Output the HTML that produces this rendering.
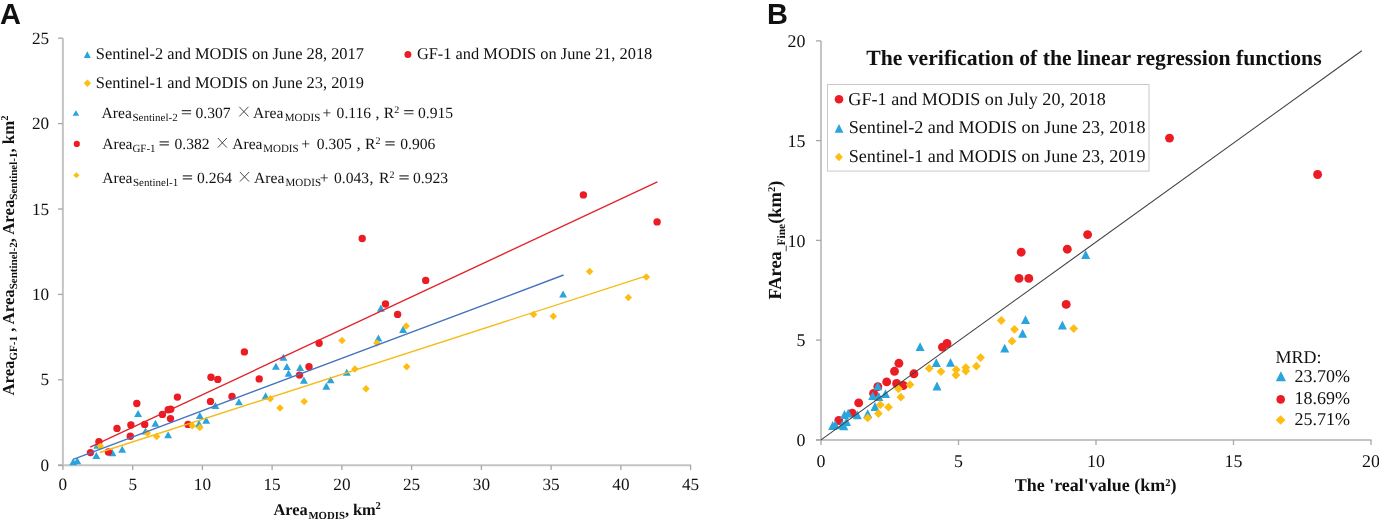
<!DOCTYPE html>
<html><head><meta charset="utf-8"><style>
html,body{margin:0;padding:0;background:#fff;width:1379px;height:521px;overflow:hidden}
svg{display:block;will-change:transform}
text{font-family:"Liberation Serif",serif;fill:#111;text-rendering:geometricPrecision}
</style></head><body>
<svg width="1379" height="521" viewBox="0 0 1379 521">
<rect width="1379" height="521" fill="#fff"/>
<g id="chartA">
<line x1="62.9" y1="38.2" x2="62.9" y2="466.2" stroke="#c4c4c4" stroke-width="2"/>
<line x1="58" y1="465.2" x2="691.15" y2="465.2" stroke="#c4c4c4" stroke-width="2"/>
<line x1="58" y1="465.2" x2="62.9" y2="465.2" stroke="#a6a6a6" stroke-width="1.3"/>
<line x1="58" y1="379.8" x2="62.9" y2="379.8" stroke="#a6a6a6" stroke-width="1.3"/>
<line x1="58" y1="294.4" x2="62.9" y2="294.4" stroke="#a6a6a6" stroke-width="1.3"/>
<line x1="58" y1="209.0" x2="62.9" y2="209.0" stroke="#a6a6a6" stroke-width="1.3"/>
<line x1="58" y1="123.6" x2="62.9" y2="123.6" stroke="#a6a6a6" stroke-width="1.3"/>
<line x1="58" y1="38.2" x2="62.9" y2="38.2" stroke="#a6a6a6" stroke-width="1.3"/>
<line x1="62.9" y1="465.2" x2="62.9" y2="470" stroke="#a6a6a6" stroke-width="1.3"/>
<line x1="132.7" y1="465.2" x2="132.7" y2="470" stroke="#a6a6a6" stroke-width="1.3"/>
<line x1="202.4" y1="465.2" x2="202.4" y2="470" stroke="#a6a6a6" stroke-width="1.3"/>
<line x1="272.1" y1="465.2" x2="272.1" y2="470" stroke="#a6a6a6" stroke-width="1.3"/>
<line x1="341.9" y1="465.2" x2="341.9" y2="470" stroke="#a6a6a6" stroke-width="1.3"/>
<line x1="411.6" y1="465.2" x2="411.6" y2="470" stroke="#a6a6a6" stroke-width="1.3"/>
<line x1="481.4" y1="465.2" x2="481.4" y2="470" stroke="#a6a6a6" stroke-width="1.3"/>
<line x1="551.1" y1="465.2" x2="551.1" y2="470" stroke="#a6a6a6" stroke-width="1.3"/>
<line x1="620.9" y1="465.2" x2="620.9" y2="470" stroke="#a6a6a6" stroke-width="1.3"/>
<line x1="690.6" y1="465.2" x2="690.6" y2="470" stroke="#a6a6a6" stroke-width="1.3"/>
<text x="49.2" y="470.7" font-size="17.2" font-weight="normal" text-anchor="end" >0</text>
<text x="49.2" y="385.3" font-size="17.2" font-weight="normal" text-anchor="end" >5</text>
<text x="49.2" y="299.9" font-size="17.2" font-weight="normal" text-anchor="end" >10</text>
<text x="49.2" y="214.5" font-size="17.2" font-weight="normal" text-anchor="end" >15</text>
<text x="49.2" y="129.1" font-size="17.2" font-weight="normal" text-anchor="end" >20</text>
<text x="49.2" y="43.7" font-size="17.2" font-weight="normal" text-anchor="end" >25</text>
<text x="62.9" y="490.0" font-size="17.2" font-weight="normal" text-anchor="middle" >0</text>
<text x="132.7" y="490.0" font-size="17.2" font-weight="normal" text-anchor="middle" >5</text>
<text x="202.4" y="490.0" font-size="17.2" font-weight="normal" text-anchor="middle" >10</text>
<text x="272.1" y="490.0" font-size="17.2" font-weight="normal" text-anchor="middle" >15</text>
<text x="341.9" y="490.0" font-size="17.2" font-weight="normal" text-anchor="middle" >20</text>
<text x="411.6" y="490.0" font-size="17.2" font-weight="normal" text-anchor="middle" >25</text>
<text x="481.4" y="490.0" font-size="17.2" font-weight="normal" text-anchor="middle" >30</text>
<text x="551.1" y="490.0" font-size="17.2" font-weight="normal" text-anchor="middle" >35</text>
<text x="620.9" y="490.0" font-size="17.2" font-weight="normal" text-anchor="middle" >40</text>
<text x="690.6" y="490.0" font-size="17.2" font-weight="normal" text-anchor="middle" >45</text>
</g>
<g id="ptsA">
<path d="M138.10 409.95L142.05 417.05L134.15 417.05Z" fill="#29a4dc"/>
<path d="M155.40 419.65L159.35 426.75L151.45 426.75Z" fill="#29a4dc"/>
<path d="M145.50 427.45L149.45 434.55L141.55 434.55Z" fill="#29a4dc"/>
<path d="M122.20 445.65L126.15 452.75L118.25 452.75Z" fill="#29a4dc"/>
<path d="M96.30 451.95L100.25 459.05L92.35 459.05Z" fill="#29a4dc"/>
<path d="M112.40 449.05L116.35 456.15L108.45 456.15Z" fill="#29a4dc"/>
<path d="M73.20 458.25L77.15 465.35L69.25 465.35Z" fill="#29a4dc"/>
<path d="M77.30 457.15L81.25 464.25L73.35 464.25Z" fill="#29a4dc"/>
<path d="M168.10 431.25L172.05 438.35L164.15 438.35Z" fill="#29a4dc"/>
<path d="M199.80 411.95L203.75 419.05L195.85 419.05Z" fill="#29a4dc"/>
<path d="M199.00 420.05L202.95 427.15L195.05 427.15Z" fill="#29a4dc"/>
<path d="M206.20 416.55L210.15 423.65L202.25 423.65Z" fill="#29a4dc"/>
<path d="M215.40 401.95L219.35 409.05L211.45 409.05Z" fill="#29a4dc"/>
<path d="M238.90 398.15L242.85 405.25L234.95 405.25Z" fill="#29a4dc"/>
<path d="M265.60 392.35L269.55 399.45L261.65 399.45Z" fill="#29a4dc"/>
<path d="M283.40 353.75L287.35 360.85L279.45 360.85Z" fill="#29a4dc"/>
<path d="M275.90 362.75L279.85 369.85L271.95 369.85Z" fill="#29a4dc"/>
<path d="M286.90 362.95L290.85 370.05L282.95 370.05Z" fill="#29a4dc"/>
<path d="M288.60 369.65L292.55 376.75L284.65 376.75Z" fill="#29a4dc"/>
<path d="M300.10 363.85L304.05 370.95L296.15 370.95Z" fill="#29a4dc"/>
<path d="M303.90 376.55L307.85 383.65L299.95 383.65Z" fill="#29a4dc"/>
<path d="M330.60 376.15L334.55 383.25L326.65 383.25Z" fill="#29a4dc"/>
<path d="M326.30 382.55L330.25 389.65L322.35 389.65Z" fill="#29a4dc"/>
<path d="M346.80 368.75L350.75 375.85L342.85 375.85Z" fill="#29a4dc"/>
<path d="M378.40 334.45L382.35 341.55L374.45 341.55Z" fill="#29a4dc"/>
<path d="M380.90 304.55L384.85 311.65L376.95 311.65Z" fill="#29a4dc"/>
<path d="M403.10 325.85L407.05 332.95L399.15 332.95Z" fill="#29a4dc"/>
<path d="M563.10 290.45L567.05 297.55L559.15 297.55Z" fill="#29a4dc"/>
<path d="M97.30 441.75L101.25 448.85L93.35 448.85Z" fill="#29a4dc"/>
<circle cx="136.8" cy="403.5" r="3.70" fill="#ec1c24"/>
<circle cx="177.4" cy="397.1" r="3.70" fill="#ec1c24"/>
<circle cx="117.0" cy="428.4" r="3.70" fill="#ec1c24"/>
<circle cx="130.9" cy="425.0" r="3.70" fill="#ec1c24"/>
<circle cx="144.7" cy="424.4" r="3.70" fill="#ec1c24"/>
<circle cx="162.4" cy="414.4" r="3.70" fill="#ec1c24"/>
<circle cx="168.2" cy="409.8" r="3.70" fill="#ec1c24"/>
<circle cx="170.7" cy="409.2" r="3.70" fill="#ec1c24"/>
<circle cx="170.5" cy="418.6" r="3.70" fill="#ec1c24"/>
<circle cx="130.3" cy="436.3" r="3.70" fill="#ec1c24"/>
<circle cx="98.9" cy="441.7" r="3.70" fill="#ec1c24"/>
<circle cx="90.5" cy="452.6" r="3.70" fill="#ec1c24"/>
<circle cx="108.4" cy="452.0" r="3.70" fill="#ec1c24"/>
<circle cx="188.0" cy="424.4" r="3.70" fill="#ec1c24"/>
<circle cx="210.5" cy="401.4" r="3.70" fill="#ec1c24"/>
<circle cx="232.0" cy="396.5" r="3.70" fill="#ec1c24"/>
<circle cx="244.4" cy="351.9" r="3.70" fill="#ec1c24"/>
<circle cx="211.0" cy="377.3" r="3.70" fill="#ec1c24"/>
<circle cx="217.8" cy="379.4" r="3.70" fill="#ec1c24"/>
<circle cx="259.2" cy="378.9" r="3.70" fill="#ec1c24"/>
<circle cx="319.1" cy="343.3" r="3.70" fill="#ec1c24"/>
<circle cx="309.0" cy="366.7" r="3.70" fill="#ec1c24"/>
<circle cx="299.5" cy="375.1" r="3.70" fill="#ec1c24"/>
<circle cx="385.5" cy="304.0" r="3.70" fill="#ec1c24"/>
<circle cx="397.6" cy="314.4" r="3.70" fill="#ec1c24"/>
<circle cx="362.2" cy="238.5" r="3.70" fill="#ec1c24"/>
<circle cx="425.7" cy="280.4" r="3.70" fill="#ec1c24"/>
<circle cx="583.4" cy="194.9" r="3.70" fill="#ec1c24"/>
<circle cx="657.1" cy="221.9" r="3.70" fill="#ec1c24"/>
<path d="M100.30 442.25L104.05 446.00L100.30 449.75L96.55 446.00Z" fill="#fdbd12"/>
<path d="M147.30 429.25L151.05 433.00L147.30 436.75L143.55 433.00Z" fill="#fdbd12"/>
<path d="M156.70 432.85L160.45 436.60L156.70 440.35L152.95 436.60Z" fill="#fdbd12"/>
<path d="M192.30 422.05L196.05 425.80L192.30 429.55L188.55 425.80Z" fill="#fdbd12"/>
<path d="M199.80 423.85L203.55 427.60L199.80 431.35L196.05 427.60Z" fill="#fdbd12"/>
<path d="M270.30 395.05L274.05 398.80L270.30 402.55L266.55 398.80Z" fill="#fdbd12"/>
<path d="M280.00 404.25L283.75 408.00L280.00 411.75L276.25 408.00Z" fill="#fdbd12"/>
<path d="M304.20 397.75L307.95 401.50L304.20 405.25L300.45 401.50Z" fill="#fdbd12"/>
<path d="M366.00 385.05L369.75 388.80L366.00 392.55L362.25 388.80Z" fill="#fdbd12"/>
<path d="M342.00 336.85L345.75 340.60L342.00 344.35L338.25 340.60Z" fill="#fdbd12"/>
<path d="M376.90 339.15L380.65 342.90L376.90 346.65L373.15 342.90Z" fill="#fdbd12"/>
<path d="M406.20 322.15L409.95 325.90L406.20 329.65L402.45 325.90Z" fill="#fdbd12"/>
<path d="M354.90 365.35L358.65 369.10L354.90 372.85L351.15 369.10Z" fill="#fdbd12"/>
<path d="M406.70 363.05L410.45 366.80L406.70 370.55L402.95 366.80Z" fill="#fdbd12"/>
<path d="M589.60 267.85L593.35 271.60L589.60 275.35L585.85 271.60Z" fill="#fdbd12"/>
<path d="M646.40 273.15L650.15 276.90L646.40 280.65L642.65 276.90Z" fill="#fdbd12"/>
<path d="M628.30 293.85L632.05 297.60L628.30 301.35L624.55 297.60Z" fill="#fdbd12"/>
<path d="M533.60 310.65L537.35 314.40L533.60 318.15L529.85 314.40Z" fill="#fdbd12"/>
<path d="M553.30 312.55L557.05 316.30L553.30 320.05L549.55 316.30Z" fill="#fdbd12"/>
<line x1="73.2" y1="459.3" x2="563.6" y2="275.0" stroke="#4774c0" stroke-width="1.4"/>
<line x1="90.2" y1="447.2" x2="657.4" y2="181.9" stroke="#e3242b" stroke-width="1.4"/>
<line x1="99.8" y1="452.5" x2="646.4" y2="275.9" stroke="#f5bb1a" stroke-width="1.4"/>
</g>
<g id="legA">
<path d="M87.30 51.30L90.80 57.90L83.80 57.90Z" fill="#29a4dc"/>
<text x="95.8" y="59.4" font-size="16.4" font-weight="normal" text-anchor="start" >Sentinel-2 and MODIS on June 28, 2017</text>
<circle cx="407.9" cy="54.6" r="3.50" fill="#ec1c24"/>
<text x="416.9" y="59.4" font-size="16.4" font-weight="normal" text-anchor="start" >GF-1 and MODIS on June 21, 2018</text>
<path d="M87.40 79.50L91.00 83.30L87.40 87.10L83.80 83.30Z" fill="#fdbd12"/>
<text x="95.8" y="88.3" font-size="16.4" font-weight="normal" text-anchor="start" >Sentinel-1 and MODIS on June 23, 2019</text>
<path d="M75.90 110.20L79.20 115.80L72.60 115.80Z" fill="#29a4dc"/>
<circle cx="76.8" cy="143.9" r="3.10" fill="#ec1c24"/>
<path d="M76.40 172.20L79.50 175.20L76.40 178.20L73.30 175.20Z" fill="#fdbd12"/>
<text x="101.6" y="117.8" font-size="15.6" font-weight="normal" text-anchor="start" >Area</text>
<text x="132.5" y="121.2" font-size="11" font-weight="normal" text-anchor="start" >Sentinel-2</text>
<path d="M181.8 110.6H191.1M181.8 113.7H191.1" stroke="#3a3a3a" stroke-width="1.15" fill="none"/>
<text x="195.5" y="117.8" font-size="15.6" font-weight="normal" text-anchor="start" >0.307</text>
<path d="M239.3 106.8L248.5 116.4M248.5 106.8L239.3 116.4" stroke="#333" stroke-width="0.9" fill="none"/>
<text x="253.0" y="117.8" font-size="15.6" font-weight="normal" text-anchor="start" >Area</text>
<text x="284.8" y="121.2" font-size="11" font-weight="normal" text-anchor="start" >MODIS</text>
<text x="322.5" y="117.8" font-size="15.6" font-weight="normal" text-anchor="start" >+</text>
<text x="336.6" y="117.8" font-size="15.6" font-weight="normal" text-anchor="start" >0.116</text>
<text x="375.6" y="117.8" font-size="15.6" font-weight="normal" text-anchor="start" >,</text>
<text x="383.8" y="117.8" font-size="15.6" font-weight="normal" text-anchor="start" >R</text>
<text x="394.2" y="112.8" font-size="10" font-weight="normal" text-anchor="start" >2</text>
<path d="M404.2 110.6H413.5M404.2 113.7H413.5" stroke="#3a3a3a" stroke-width="1.15" fill="none"/>
<text x="418.0" y="117.8" font-size="15.6" font-weight="normal" text-anchor="start" >0.915</text>
<text x="102.2" y="149.0" font-size="15.6" font-weight="normal" text-anchor="start" >Area</text>
<text x="132.4" y="152.4" font-size="11" font-weight="normal" text-anchor="start" >GF-1</text>
<path d="M159.6 141.8H168.9M159.6 144.9H168.9" stroke="#3a3a3a" stroke-width="1.15" fill="none"/>
<text x="174.5" y="149.0" font-size="15.6" font-weight="normal" text-anchor="start" >0.382</text>
<path d="M217.8 138.0L226.9 147.6M226.9 138.0L217.8 147.6" stroke="#333" stroke-width="0.9" fill="none"/>
<text x="232.2" y="149.0" font-size="15.6" font-weight="normal" text-anchor="start" >Area</text>
<text x="263.2" y="152.4" font-size="11" font-weight="normal" text-anchor="start" >MODIS</text>
<text x="301.3" y="149.0" font-size="15.6" font-weight="normal" text-anchor="start" >+</text>
<text x="316.7" y="149.0" font-size="15.6" font-weight="normal" text-anchor="start" >0.305</text>
<text x="356.8" y="149.0" font-size="15.6" font-weight="normal" text-anchor="start" >,</text>
<text x="365.0" y="149.0" font-size="15.6" font-weight="normal" text-anchor="start" >R</text>
<text x="375.6" y="144.0" font-size="10" font-weight="normal" text-anchor="start" >2</text>
<path d="M385.4 141.8H394.7M385.4 144.9H394.7" stroke="#3a3a3a" stroke-width="1.15" fill="none"/>
<text x="400.2" y="149.0" font-size="15.6" font-weight="normal" text-anchor="start" >0.906</text>
<text x="102.2" y="183.0" font-size="15.6" font-weight="normal" text-anchor="start" >Area</text>
<text x="133.0" y="186.4" font-size="11" font-weight="normal" text-anchor="start" >Sentinel-1</text>
<path d="M182.8 175.8H192.1M182.8 178.9H192.1" stroke="#3a3a3a" stroke-width="1.15" fill="none"/>
<text x="197.0" y="183.0" font-size="15.6" font-weight="normal" text-anchor="start" >0.264</text>
<path d="M239.9 172.0L249.1 181.6M249.1 172.0L239.9 181.6" stroke="#333" stroke-width="0.9" fill="none"/>
<text x="254.0" y="183.0" font-size="15.6" font-weight="normal" text-anchor="start" >Area</text>
<text x="285.6" y="186.4" font-size="11" font-weight="normal" text-anchor="start" >MODIS</text>
<text x="319.8" y="183.0" font-size="15.6" font-weight="normal" text-anchor="start" >+</text>
<text x="334.0" y="183.0" font-size="15.6" font-weight="normal" text-anchor="start" >0.043</text>
<text x="369.4" y="183.0" font-size="15.6" font-weight="normal" text-anchor="start" >,</text>
<text x="379.0" y="183.0" font-size="15.6" font-weight="normal" text-anchor="start" >R</text>
<text x="389.6" y="178.0" font-size="10" font-weight="normal" text-anchor="start" >2</text>
<path d="M399.4 175.8H408.7M399.4 178.9H408.7" stroke="#3a3a3a" stroke-width="1.15" fill="none"/>
<text x="413.0" y="183.0" font-size="15.6" font-weight="normal" text-anchor="start" >0.923</text>
</g>
<g id="titA" font-weight="bold">
<text x="273.5" y="515" font-size="16.4" font-weight="bold" text-anchor="start" >Area</text>
<text x="308.4" y="519.2" font-size="10.8" font-weight="bold" text-anchor="start" >MODIS</text>
<text x="345.0" y="515" font-size="16.4" font-weight="bold" text-anchor="start" >,</text>
<text x="353.0" y="515" font-size="16.4" font-weight="bold" text-anchor="start" >km</text>
<text x="375.6" y="509.4" font-size="10.5" font-weight="bold" text-anchor="start" >2</text>
<g transform="translate(13.7,395.6) rotate(-90)">
<text x="0" y="0" font-size="16.8" font-weight="bold">Area<tspan font-size="11" dy="3.6">GF-1</tspan><tspan dy="-3.6"> , Area</tspan><tspan font-size="11" dy="3.6">Sentinel-2</tspan><tspan dy="-3.6">, Area</tspan><tspan font-size="11" dy="3.6">Sentinel-1</tspan><tspan dy="-3.6">, km</tspan><tspan font-size="10.5" dy="-5.6">2</tspan></text>
</g>
</g>
<text x="0" y="24" style="font-family:Liberation Sans" font-size="29" font-weight="bold">A</text>
<text x="767" y="24" style="font-family:Liberation Sans" font-size="29" font-weight="bold">B</text>
<g id="chartB">
<line x1="821.0" y1="40.9" x2="821.0" y2="440.9" stroke="#c4c4c4" stroke-width="2"/>
<line x1="816" y1="439.9" x2="1371.5" y2="439.9" stroke="#c4c4c4" stroke-width="2"/>
<line x1="816" y1="439.9" x2="821.0" y2="439.9" stroke="#a6a6a6" stroke-width="1.3"/>
<text x="805.5" y="446.0" font-size="17.9" font-weight="normal" text-anchor="end" >0</text>
<line x1="816" y1="340.1" x2="821.0" y2="340.1" stroke="#a6a6a6" stroke-width="1.3"/>
<text x="805.5" y="346.2" font-size="17.9" font-weight="normal" text-anchor="end" >5</text>
<line x1="816" y1="240.4" x2="821.0" y2="240.4" stroke="#a6a6a6" stroke-width="1.3"/>
<text x="805.5" y="246.5" font-size="17.9" font-weight="normal" text-anchor="end" >10</text>
<line x1="816" y1="140.6" x2="821.0" y2="140.6" stroke="#a6a6a6" stroke-width="1.3"/>
<text x="805.5" y="146.7" font-size="17.9" font-weight="normal" text-anchor="end" >15</text>
<line x1="816" y1="40.9" x2="821.0" y2="40.9" stroke="#a6a6a6" stroke-width="1.3"/>
<text x="805.5" y="47.0" font-size="17.9" font-weight="normal" text-anchor="end" >20</text>
<line x1="821.0" y1="439.9" x2="821.0" y2="445" stroke="#a6a6a6" stroke-width="1.3"/>
<text x="821.0" y="466.9" font-size="17.9" font-weight="normal" text-anchor="middle" >0</text>
<line x1="958.5" y1="439.9" x2="958.5" y2="445" stroke="#a6a6a6" stroke-width="1.3"/>
<text x="958.5" y="466.9" font-size="17.9" font-weight="normal" text-anchor="middle" >5</text>
<line x1="1096.0" y1="439.9" x2="1096.0" y2="445" stroke="#a6a6a6" stroke-width="1.3"/>
<text x="1096.0" y="466.9" font-size="17.9" font-weight="normal" text-anchor="middle" >10</text>
<line x1="1233.5" y1="439.9" x2="1233.5" y2="445" stroke="#a6a6a6" stroke-width="1.3"/>
<text x="1233.5" y="466.9" font-size="17.9" font-weight="normal" text-anchor="middle" >15</text>
<line x1="1371.0" y1="439.9" x2="1371.0" y2="445" stroke="#a6a6a6" stroke-width="1.3"/>
<text x="1371.0" y="466.9" font-size="17.9" font-weight="normal" text-anchor="middle" >20</text>
</g>
<g id="ptsB">
<circle cx="858.7" cy="402.9" r="4.45" fill="#ec1c24"/>
<circle cx="852.2" cy="413.1" r="4.45" fill="#ec1c24"/>
<circle cx="838.8" cy="420.5" r="4.45" fill="#ec1c24"/>
<circle cx="873.6" cy="393.4" r="4.45" fill="#ec1c24"/>
<circle cx="877.8" cy="386.7" r="4.45" fill="#ec1c24"/>
<circle cx="886.7" cy="381.9" r="4.45" fill="#ec1c24"/>
<circle cx="896.6" cy="383.5" r="4.45" fill="#ec1c24"/>
<circle cx="903.2" cy="385.5" r="4.45" fill="#ec1c24"/>
<circle cx="894.5" cy="371.3" r="4.45" fill="#ec1c24"/>
<circle cx="898.9" cy="363.3" r="4.45" fill="#ec1c24"/>
<circle cx="913.9" cy="373.8" r="4.45" fill="#ec1c24"/>
<circle cx="947.0" cy="343.5" r="4.45" fill="#ec1c24"/>
<circle cx="942.4" cy="347.1" r="4.45" fill="#ec1c24"/>
<circle cx="1066.2" cy="304.4" r="4.45" fill="#ec1c24"/>
<circle cx="1019.0" cy="278.4" r="4.45" fill="#ec1c24"/>
<circle cx="1028.8" cy="278.4" r="4.45" fill="#ec1c24"/>
<circle cx="1021.2" cy="252.2" r="4.45" fill="#ec1c24"/>
<circle cx="1067.3" cy="249.2" r="4.45" fill="#ec1c24"/>
<circle cx="1087.6" cy="234.6" r="4.45" fill="#ec1c24"/>
<circle cx="1169.5" cy="138.1" r="4.45" fill="#ec1c24"/>
<circle cx="1317.6" cy="174.5" r="4.45" fill="#ec1c24"/>
<path d="M844.50 410.10L849.00 418.90L840.00 418.90Z" fill="#29a4dc"/>
<path d="M848.20 408.70L852.70 417.50L843.70 417.50Z" fill="#29a4dc"/>
<path d="M857.30 410.40L861.80 419.20L852.80 419.20Z" fill="#29a4dc"/>
<path d="M835.40 420.50L839.90 429.30L830.90 429.30Z" fill="#29a4dc"/>
<path d="M832.70 421.10L837.20 429.90L828.20 429.90Z" fill="#29a4dc"/>
<path d="M843.80 421.50L848.30 430.30L839.30 430.30Z" fill="#29a4dc"/>
<path d="M846.50 417.10L851.00 425.90L842.00 425.90Z" fill="#29a4dc"/>
<path d="M867.70 409.20L872.20 418.00L863.20 418.00Z" fill="#29a4dc"/>
<path d="M872.70 391.20L877.20 400.00L868.20 400.00Z" fill="#29a4dc"/>
<path d="M875.00 402.10L879.50 410.90L870.50 410.90Z" fill="#29a4dc"/>
<path d="M877.80 381.40L882.30 390.20L873.30 390.20Z" fill="#29a4dc"/>
<path d="M885.50 389.30L890.00 398.10L881.00 398.10Z" fill="#29a4dc"/>
<path d="M878.80 392.10L883.30 400.90L874.30 400.90Z" fill="#29a4dc"/>
<path d="M936.30 358.20L940.80 367.00L931.80 367.00Z" fill="#29a4dc"/>
<path d="M950.50 358.00L955.00 366.80L946.00 366.80Z" fill="#29a4dc"/>
<path d="M937.00 381.60L941.50 390.40L932.50 390.40Z" fill="#29a4dc"/>
<path d="M920.10 342.20L924.60 351.00L915.60 351.00Z" fill="#29a4dc"/>
<path d="M1025.50 315.20L1030.00 324.00L1021.00 324.00Z" fill="#29a4dc"/>
<path d="M1022.60 329.00L1027.10 337.80L1018.10 337.80Z" fill="#29a4dc"/>
<path d="M1004.70 343.70L1009.20 352.50L1000.20 352.50Z" fill="#29a4dc"/>
<path d="M1062.40 320.60L1066.90 329.40L1057.90 329.40Z" fill="#29a4dc"/>
<path d="M1085.70 250.10L1090.20 258.90L1081.20 258.90Z" fill="#29a4dc"/>
<path d="M842.30 420.20L846.80 429.00L837.80 429.00Z" fill="#29a4dc"/>
<path d="M867.70 413.50L872.10 417.90L867.70 422.30L863.30 417.90Z" fill="#fdbd12"/>
<path d="M878.40 409.10L882.80 413.50L878.40 417.90L874.00 413.50Z" fill="#fdbd12"/>
<path d="M880.30 400.40L884.70 404.80L880.30 409.20L875.90 404.80Z" fill="#fdbd12"/>
<path d="M888.50 402.80L892.90 407.20L888.50 411.60L884.10 407.20Z" fill="#fdbd12"/>
<path d="M900.80 392.80L905.20 397.20L900.80 401.60L896.40 397.20Z" fill="#fdbd12"/>
<path d="M898.50 384.40L902.90 388.80L898.50 393.20L894.10 388.80Z" fill="#fdbd12"/>
<path d="M910.00 380.30L914.40 384.70L910.00 389.10L905.60 384.70Z" fill="#fdbd12"/>
<path d="M929.20 364.00L933.60 368.40L929.20 372.80L924.80 368.40Z" fill="#fdbd12"/>
<path d="M941.00 367.20L945.40 371.60L941.00 376.00L936.60 371.60Z" fill="#fdbd12"/>
<path d="M956.20 365.30L960.60 369.70L956.20 374.10L951.80 369.70Z" fill="#fdbd12"/>
<path d="M955.90 370.70L960.30 375.10L955.90 379.50L951.50 375.10Z" fill="#fdbd12"/>
<path d="M965.80 363.20L970.20 367.60L965.80 372.00L961.40 367.60Z" fill="#fdbd12"/>
<path d="M965.80 366.60L970.20 371.00L965.80 375.40L961.40 371.00Z" fill="#fdbd12"/>
<path d="M976.40 361.80L980.80 366.20L976.40 370.60L972.00 366.20Z" fill="#fdbd12"/>
<path d="M980.60 353.20L985.00 357.60L980.60 362.00L976.20 357.60Z" fill="#fdbd12"/>
<path d="M1001.30 316.10L1005.70 320.50L1001.30 324.90L996.90 320.50Z" fill="#fdbd12"/>
<path d="M1014.50 324.90L1018.90 329.30L1014.50 333.70L1010.10 329.30Z" fill="#fdbd12"/>
<path d="M1012.00 336.80L1016.40 341.20L1012.00 345.60L1007.60 341.20Z" fill="#fdbd12"/>
<path d="M1073.70 324.20L1078.10 328.60L1073.70 333.00L1069.30 328.60Z" fill="#fdbd12"/>
<line x1="821.0" y1="439.9" x2="1361.8" y2="50.8" stroke="#404040" stroke-width="1.1"/>
</g>
<text x="866.2" y="64.5" font-size="21.7" font-weight="bold" text-anchor="start" >The verification of the linear regression functions</text>
<rect x="827.5" y="84.5" width="321.5" height="86.6" fill="#fff" stroke="#c8c8c8" stroke-width="1"/>
<circle cx="839.0" cy="99.2" r="4.30" fill="#ec1c24"/>
<text x="848.3" y="104.8" font-size="18.15" font-weight="normal" text-anchor="start" >GF-1 and MODIS on July 20, 2018</text>
<path d="M839.00 124.00L843.40 132.80L834.60 132.80Z" fill="#29a4dc"/>
<text x="848.7" y="133.4" font-size="18.15" font-weight="normal" text-anchor="start" >Sentinel-2 and MODIS on June 23, 2018</text>
<path d="M838.90 152.80L842.90 157.00L838.90 161.20L834.90 157.00Z" fill="#fdbd12"/>
<text x="848.7" y="162.0" font-size="18.15" font-weight="normal" text-anchor="start" >Sentinel-1 and MODIS on June 23, 2019</text>
<text x="1275.4" y="362.5" font-size="18" font-weight="normal" text-anchor="start" >MRD:</text>
<path d="M1280.90 371.30L1286.00 381.30L1275.80 381.30Z" fill="#29a4dc"/>
<text x="1294.4" y="382.3" font-size="18" font-weight="normal" text-anchor="start" >23.70%</text>
<circle cx="1280.7" cy="399.4" r="4.30" fill="#ec1c24"/>
<text x="1294.4" y="403.6" font-size="18" font-weight="normal" text-anchor="start" >18.69%</text>
<path d="M1280.60 415.20L1285.50 420.00L1280.60 424.80L1275.70 420.00Z" fill="#fdbd12"/>
<text x="1294.4" y="424.6" font-size="18" font-weight="normal" text-anchor="start" >25.71%</text>
<text x="1014.7" y="491.3" font-size="18" font-weight="bold" text-anchor="start" >The 'real'value (km<tspan font-size="10.5" dy="-5">2</tspan><tspan dy="5">)</tspan></text>
<g transform="translate(780.5,299.6) rotate(-90)">
<text x="0" y="0" font-size="18.4" font-weight="bold">FArea<tspan font-size="11.5" font-weight="bold" dy="4">_Fine</tspan><tspan dy="-4">(km</tspan><tspan font-size="10.5" dy="-6">2</tspan><tspan dy="6">)</tspan></text>
</g>
</svg>
</body></html>
